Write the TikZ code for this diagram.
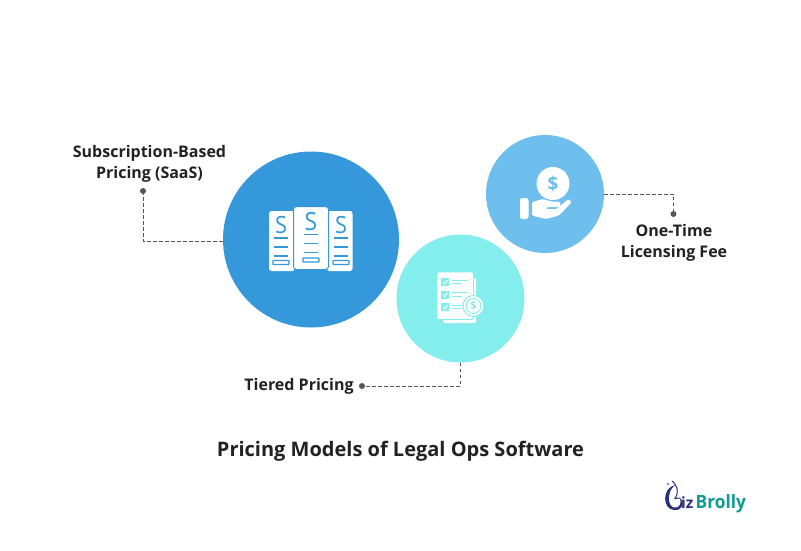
\documentclass[tikz,border=0pt]{standalone}
\usepackage{fontspec}
\setmainfont{Open Sans}
\definecolor{bigblue}{HTML}{3498DB}
\definecolor{aqua}{HTML}{84EDED}
\definecolor{sky}{HTML}{6EBFEE}
\definecolor{ink}{HTML}{222222}
\definecolor{wire}{HTML}{555555}
\definecolor{navy}{HTML}{2A2F7C}
\definecolor{teal2}{HTML}{0E9C92}
\tikzset{
  blob/.style={circle,draw=none,inner sep=0pt,minimum size=#1},
  lab/.style={text=ink,font=\bfseries\fontsize{16}{21}\selectfont,align=center,inner sep=0pt},
  wirepath/.style={draw=wire,line width=0.8pt,dash pattern=on 3.5pt off 2.5pt},
  pin/.style={circle,fill=wire,inner sep=0pt,minimum size=6pt},
  paper/.style={fill=white,rounded corners=2.5pt},
  rulee/.style={line width=1.3pt},
  dollarS/.style={text=bigblue,inner sep=0pt,xscale=1.15,yscale=1.25}
}
\begin{document}
\begin{tikzpicture}[x=1pt,y=-1pt]
\useasboundingbox (0,0) rectangle (801,550);
\fill[white] (0,0) rectangle (801,550);
\node[blob=176pt,fill=bigblue] (saas) at (311,239.5) {};
\node[blob=128pt,fill=aqua] (tier) at (460.5,298.5) {};
\node[blob=118pt,fill=sky] (once) at (545,194) {};
% labels
\node[lab] (saaslab) at (149.5,164) {Subscription-Based\\Pricing (SaaS)};
\node[lab] (tierlab) at (299,386) {Tiered Pricing};
\node[lab] (oncelab) at (674,242.5) {One-Time\\Licensing Fee};
\node[text=ink,font=\bfseries\fontsize{20}{24}\selectfont,inner sep=0pt] (title) at (400.5,451) {Pricing Models of Legal Ops Software};
% connectors
\node[pin] (saaspin) at (143,191) {};
\node[pin] (tierpin) at (362,386) {};
\node[pin] (oncepin) at (673.5,214) {};
\draw[wirepath] (saas.west |- 0,241) -- (143,241) -- (saaspin);
\draw[wirepath] (tier.south) -- (460.5,386) -- (tierpin);
\draw[wirepath] (once.east) -- (673.5,194) -- (oncepin);
% SaaS icon
\foreach \px in {269,327}{
  \fill[paper] (\px,211) rectangle (\px+25.5,271);
}
\foreach \sx in {281,341}{
  \node[dollarS,font=\fontsize{19}{19}\selectfont] at (\sx,225.5) {S};
  \foreach \ly in {238,247,256} \draw[bigblue,rulee] (\sx-7,\ly) -- (\sx+7,\ly);
  \draw[bigblue,line width=1.1pt,rounded corners=0.5pt] (\sx-8,260.5) rectangle (\sx+8,264.5);
}
\fill[white,draw=bigblue,line width=1pt,rounded corners=3pt] (293.5,206.5) rectangle (328.5,269.5);
\node[dollarS,font=\fontsize{20}{20}\selectfont] at (311,221.5) {S};
\foreach \ly in {234.5,243.5,252.5} \draw[bigblue,rulee] (304,\ly) -- (318,\ly);
\draw[bigblue,line width=1.1pt,rounded corners=0.5pt] (303,258) rectangle (319,262);
% Tier icon
\fill[white,rounded corners=1.5pt] (443,278) -- (476,278) -- (476,323) -- (443,323) -- cycle;
\draw[aqua,line width=0.9pt,fill=white,rounded corners=1.5pt] (437,272) rectangle (473.5,319.5);
\foreach \cy in {278,290.5,303}{
  \fill[aqua] (441,\cy) rectangle (449,\cy+8);
  \draw[white,line width=1pt] (442.8,\cy+4.2) -- (444.6,\cy+6) -- (447.4,\cy+2.2);
  \draw[aqua,line width=1pt] (452,\cy+2) -- (468,\cy+2);
  \draw[aqua,line width=1pt] (452,\cy+5.5) -- (462,\cy+5.5);
}
\fill[white,draw=aqua,line width=1pt] (473.5,306) circle (10.5);
\draw[aqua,line width=0.9pt] (473.5,306) circle (7.5);
\node[text=aqua,font=\bfseries\fontsize{11}{11}\selectfont,inner sep=0pt] at (473.5,306) {\$};
% Once icon
\fill[white] (553,183.5) circle (16.5);
\node[text=sky,font=\bfseries\fontsize{19}{19}\selectfont,inner sep=0pt] at (553,183.5) {\$};
\fill[white,rounded corners=2.5pt] (520,198) rectangle (528.5,219);
\fill[white,rounded corners=1.5pt] (532,202) -- (543,199) -- (551,201.5) -- (558.5,201.5)
  .. controls (561,203) and (560,207) .. (557.5,207) -- (546,207) -- (546,209) -- (557,209)
  -- (567,200) .. controls (570,199) and (571.5,202) .. (570,204)
  -- (559,215.5) -- (546,219) -- (532,215.5) -- cycle;
% logo
\fill[navy] (675,485) .. controls (662,488) and (662,509) .. (674,510)
  .. controls (683,510.5) and (685,503) .. (680,498)
  .. controls (682,504) and (679,508.5) .. (674,507.5)
  .. controls (667,506) and (667,491) .. (675,485) -- cycle;
\draw[navy,line width=1pt] (672,481) .. controls (678,486) and (679,492) .. (675,498.5) -- (680,498);
\fill[navy!60] (668,484) circle (1.3);
\node[anchor=base west,inner sep=0pt,text=navy,font=\bfseries\fontsize{15.5}{16}\selectfont] (bizz) at (681,508) {iz};
\node[anchor=base west,inner sep=0pt,text=teal2,xscale=0.94,font=\bfseries\fontsize{18.4}{18.5}\selectfont] (brolly) at (695.5,508) {Brolly};
\end{tikzpicture}
\end{document}
